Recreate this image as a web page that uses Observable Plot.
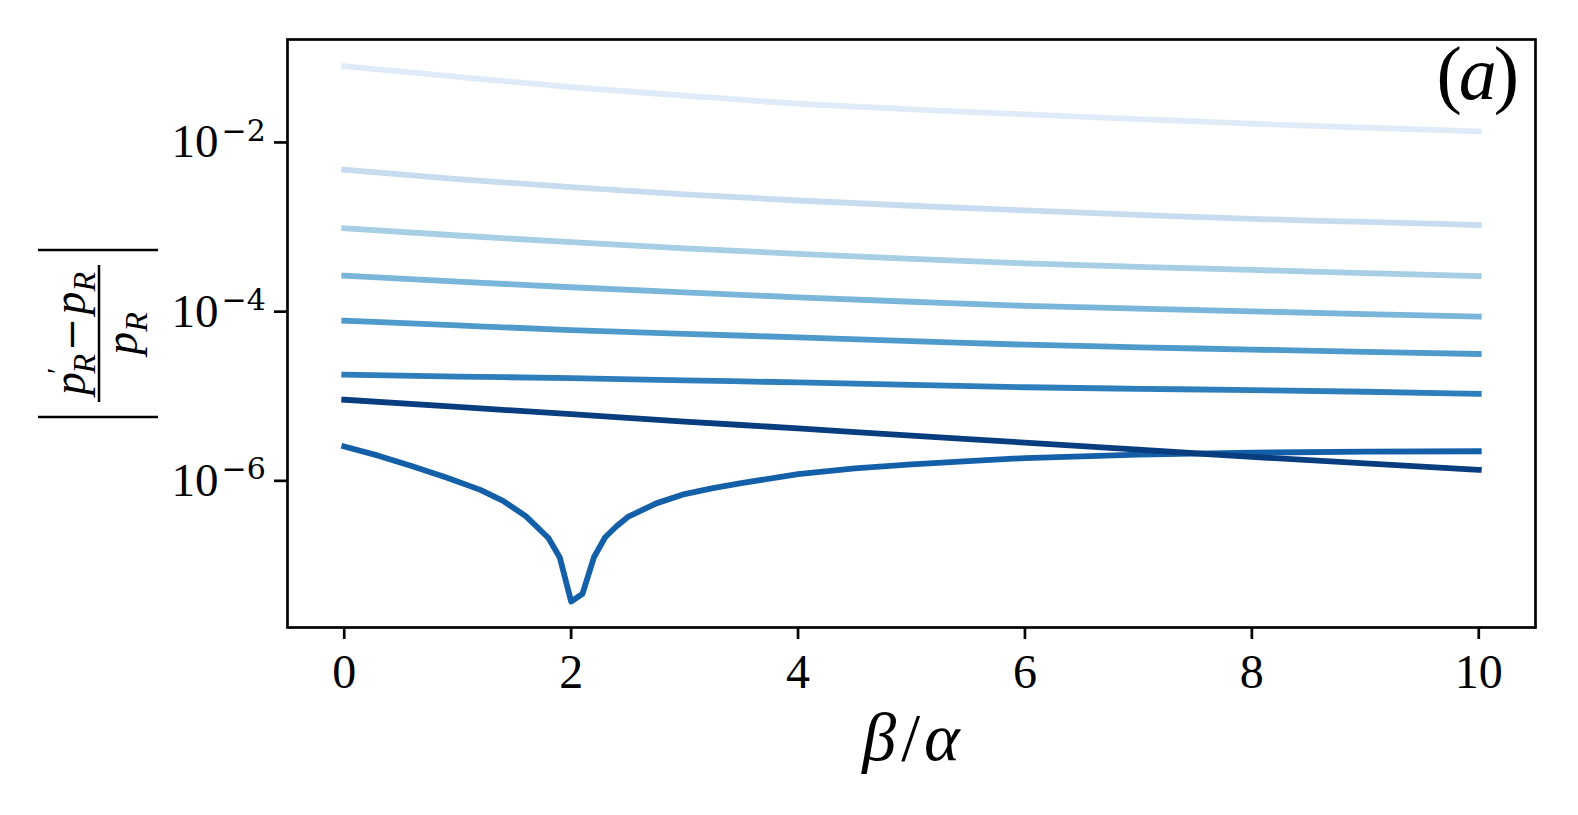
<!DOCTYPE html>
<html>
<head>
<meta charset="utf-8">
<script src="https://cdn.jsdelivr.net/npm/d3@7"></script>
<script src="https://cdn.jsdelivr.net/npm/@observablehq/plot@0.6"></script>
<style>
  html, body { margin: 0; padding: 0; background: #fff; }
  svg { display: block; }
</style>
</head>
<body>
<div id="chart"></div>
<script>
// ---- data ----
const xs = [0, 1, 2, 3, 4, 5, 6, 7, 8, 9, 10];
const err1 = [0.0757, 0.0565, 0.0428, 0.0339, 0.0272, 0.0233, 0.0203, 0.01786, 0.01578, 0.01416, 0.01279];
const err2 = [0.00450, 0.00350, 0.00280, 0.00231, 0.00195, 0.00169, 0.00149, 0.00132, 0.00118, 0.00109, 0.00100];
const err3 = [9.16e-4, 7.52e-4, 6.27e-4, 5.31e-4, 4.56e-4, 3.99e-4, 3.53e-4, 3.21e-4, 2.95e-4, 2.70e-4, 2.49e-4];
const err4 = [2.52e-4, 2.14e-4, 1.84e-4, 1.60e-4, 1.40e-4, 1.24e-4, 1.11e-4, 1.03e-4, 9.55e-5, 8.87e-5, 8.26e-5];
const err5 = [7.41e-5, 6.50e-5, 5.74e-5, 5.18e-5, 4.70e-5, 4.25e-5, 3.85e-5, 3.59e-5, 3.37e-5, 3.17e-5, 2.99e-5];
const err6 = [1.70e-5, 1.62e-5, 1.55e-5, 1.46e-5, 1.38e-5, 1.29e-5, 1.21e-5, 1.16e-5, 1.12e-5, 1.07e-5, 1.01e-5];
const err8 = [8.61e-6, 7.08e-6, 5.81e-6, 4.76e-6, 3.94e-6, 3.24e-6, 2.68e-6, 2.21e-6, 1.82e-6, 1.52e-6, 1.28e-6];

const dipXs = [0, 0.3, 0.6, 0.9, 1.2, 1.4, 1.6, 1.8, 1.9, 2.0, 2.1, 2.2, 2.3, 2.4, 2.5, 2.75, 3.0, 3.25, 3.5, 4, 4.5, 5, 5.5, 6, 7, 8, 9, 10];
const err7 = [2.41e-6, 1.88e-6, 1.41e-6, 1.035e-6, 7.41e-7, 5.50e-7, 3.63e-7, 2.00e-7, 1.175e-7, 3.55e-8, 4.37e-8, 1.175e-7, 2.04e-7, 2.75e-7, 3.55e-7, 5.13e-7, 6.61e-7, 7.76e-7, 8.91e-7, 1.135e-6, 1.33e-6, 1.48e-6, 1.62e-6, 1.76e-6, 1.93e-6, 2.04e-6, 2.10e-6, 2.12e-6];

const seriesKeys = ["s1", "s2", "s3", "s4", "s5", "s6", "s7", "s8"];
const seriesColors = ["#dfecf7", "#c8dcf0", "#a6cee4", "#7ab6d9", "#4e9acb", "#2f7ebc", "#1460a8", "#083d7f"];

const xTicks = [0, 2, 4, 6, 8, 10];
const yTicks = [1e-2, 1e-4, 1e-6];
const yTickBase = "10";
const yTickExponents = ["\u22122", "\u22124", "\u22126"];
const xDomain = [-0.5, 10.5];
const yDomain = [1.75e-8, 0.156];

// ---- build tables ----
const smoothSeries = [["s1", err1], ["s2", err2], ["s3", err3], ["s4", err4], ["s5", err5], ["s6", err6]];
const smoothRows = smoothSeries.flatMap(([s, ys]) => ys.map((y, i) => ({s, x: xs[i], y})));
const dipRows = err7.map((y, i) => ({s: "s7", x: dipXs[i], y}));
const darkRows = err8.map((y, i) => ({s: "s8", x: xs[i], y}));
const expRows = yTicks.map((v, i) => ({v, label: yTickExponents[i]}));

const serif = "'Liberation Serif', 'DejaVu Serif', serif";
const expFont = "'DejaVu Serif', serif";
const lineOpts = {x: "x", y: "y", z: "s", stroke: "s", strokeWidth: 5.8, strokeLinecap: "square", strokeLinejoin: "round"};

const plot = Plot.plot({
  width: 1578,
  height: 815,
  marginLeft: 287,
  marginRight: 43,
  marginTop: 39,
  marginBottom: 188,
  style: {fontFamily: serif, fontSize: "47px", color: "black", background: "white"},
  x: {domain: xDomain},
  y: {type: "log", domain: yDomain},
  color: {domain: seriesKeys, range: seriesColors},
  marks: [
    Plot.line(smoothRows, {...lineOpts, curve: "monotone-x"}),
    Plot.line(dipRows, {...lineOpts, curve: "linear"}),
    Plot.line(darkRows, {...lineOpts, curve: "monotone-x"}),
    Plot.frame({stroke: "black", strokeWidth: 2.7}),
    Plot.axisX(xTicks, {tickSize: 12, tickPadding: 14, strokeWidth: 2.7, label: null, fontSize: 48, fontFamily: serif, tickFormat: d => String(d)}),
    Plot.axisY(yTicks, {tickSize: 13, tickPadding: 56, strokeWidth: 2.7, label: null, dy: 2, fontSize: 47, fontFamily: serif, tickFormat: () => yTickBase}),
    Plot.text(expRows, {frameAnchor: "left", y: "v", text: "label", dx: -66, dy: -9, textAnchor: "start", fontSize: 30, fontFamily: expFont})
  ]
});

document.getElementById("chart").appendChild(plot);

const svg = d3.select(plot);

// x label  β/α
const xl = svg.append("text")
  .attr("x", 911).attr("y", 760)
  .attr("text-anchor", "middle")
  .attr("font-family", serif)
  .attr("font-size", 68)
  .attr("fill", "black");
xl.append("tspan").attr("font-style", "italic").text("β");
xl.append("tspan").attr("dx", 5).text("/");
xl.append("tspan").attr("dx", 4).attr("font-style", "italic").text("α");

// panel tag (a)
const tag = svg.append("text")
  .attr("x", 1519).attr("y", 99)
  .attr("text-anchor", "end")
  .attr("font-family", serif)
  .attr("font-size", 76)
  .attr("fill", "black");
tag.append("tspan").text("(");
tag.append("tspan").attr("font-style", "italic").attr("dx", -3).text("a");
tag.append("tspan").attr("dx", -3).text(")");

// y label  |(p'_R − p_R) / p_R|  rotated
const g = svg.append("g")
  .attr("transform", "translate(99,333.5) rotate(-90)")
  .attr("font-family", serif)
  .attr("fill", "black");
g.append("line").attr("x1", -83.5).attr("x2", -83.5).attr("y1", -61).attr("y2", 59).attr("stroke", "black").attr("stroke-width", 2.7);
g.append("line").attr("x1", 83.5).attr("x2", 83.5).attr("y1", -61).attr("y2", 59).attr("stroke", "black").attr("stroke-width", 2.7);
g.append("line").attr("x1", -68.5).attr("x2", 68.5).attr("y1", 0).attr("y2", 0).attr("stroke", "black").attr("stroke-width", 2.5);

const num = g.append("text").attr("x", 0).attr("y", -14).attr("text-anchor", "middle").attr("font-size", 46);
num.append("tspan").attr("font-style", "italic").text("p");
num.append("tspan").attr("font-size", 30).attr("dx", -2).attr("dy", -18).text("\u2032");
num.append("tspan").attr("font-style", "italic").attr("font-size", 32).attr("dx", -6).attr("dy", 28).text("R");
num.append("tspan").attr("font-family", expFont).attr("font-size", 40).attr("dx", 3).attr("dy", -10).text("\u2212");
num.append("tspan").attr("font-style", "italic").attr("dx", 3).text("p");
num.append("tspan").attr("font-style", "italic").attr("font-size", 32).attr("dy", 10).text("R");

const den = g.append("text").attr("x", 0).attr("y", 38).attr("text-anchor", "middle").attr("font-size", 46);
den.append("tspan").attr("font-style", "italic").text("p");
den.append("tspan").attr("font-style", "italic").attr("font-size", 32).attr("dy", 10).text("R");
</script>
</body>
</html>
